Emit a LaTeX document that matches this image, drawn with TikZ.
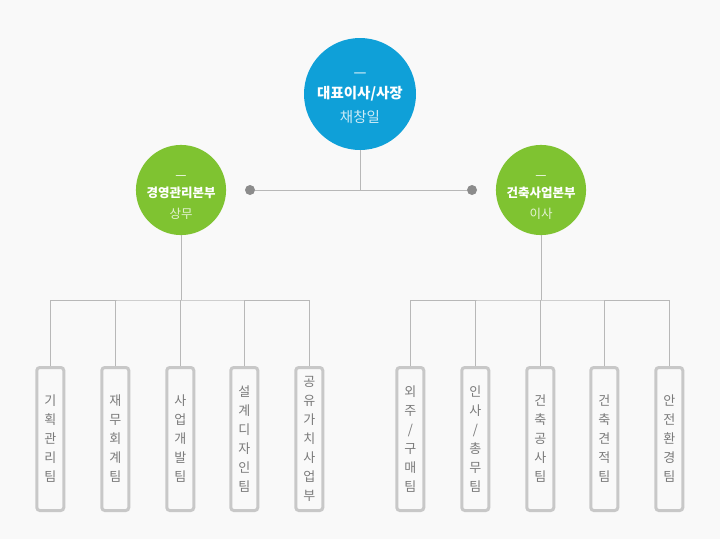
\documentclass[tikz,border=0pt]{standalone}
\usepackage{fontspec}
\setmainfont{Noto Sans CJK KR}
\usetikzlibrary{positioning}

\definecolor{ceoblue}{HTML}{0FA0D8}
\definecolor{divgreen}{HTML}{7FC331}
\definecolor{linegray}{HTML}{B8B8B8}
\definecolor{boxgray}{HTML}{C8C8C8}
\definecolor{dotgray}{HTML}{8C8C8C}
\definecolor{txtgray}{HTML}{7A7A7A}
\definecolor{bggray}{HTML}{F9F9F9}

\begin{document}
\begin{tikzpicture}[
    x=1pt, y=-1pt,
    head/.style={circle, fill=ceoblue, minimum size=112pt, inner sep=0pt, align=center, text=white,
        font=\fontsize{14.5}{22}\selectfont},
    div/.style={circle, fill=divgreen, minimum size=90pt, inner sep=0pt, align=center, text=white,
        font=\fontsize{12.5}{22}\selectfont},
    team/.style={draw=boxgray, line width=3pt, rounded corners=3pt, minimum width=27pt, minimum height=143pt,
        inner sep=0pt, align=center, text=txtgray, font=\fontsize{13}{19}\selectfont},
    dot/.style={circle, fill=dotgray, minimum size=10pt, inner sep=0pt},
    conn/.style={draw=linegray, line width=1pt},
]
% background
\fill[bggray] (0,0) rectangle (720,539);

% CEO
\node[head] (ceo) at (360,94) {\rule{0pt}{14pt}—\\[-1pt]
    \textbf{대표이사/사장}\\[2pt]
    \color{white!80!ceoblue}채창일};

% Divisions
\node[div] (mgmt) at (181,190) {\rule{0pt}{18pt}—\\[-4pt]
    \textbf{경영관리본부}\\[-1pt]
    \color{white!80!divgreen}상무};
\node[div] (build) at (541,190) {\rule{0pt}{18pt}—\\[-4pt]
    \textbf{건축사업본부}\\[-1pt]
    \color{white!80!divgreen}이사};

% Dots
\node[dot] (dotL) at (250,190) {};
\node[dot] (dotR) at (472,190) {};

% Teams (left)
\node[team] (t1) at (50.3,439) {기\\획\\관\\리\\팀};
\node[team] (t2) at (115.3,439) {재\\무\\회\\계\\팀};
\node[team] (t3) at (180.3,439) {사\\업\\개\\발\\팀};
\node[team] (t4) at (244.3,439) {설\\계\\디\\자\\인\\팀};
\node[team] (t5) at (309.3,439) {공\\유\\가\\치\\사\\업\\부};

% Teams (right)
\node[team] (t6) at (410.3,439) {외\\주\\/\\구\\매\\팀};
\node[team] (t7) at (475.3,439) {인\\사\\/\\총\\무\\팀};
\node[team] (t8) at (540.3,439) {건\\축\\공\\사\\팀};
\node[team] (t9) at (604.3,439) {건\\축\\견\\적\\팀};
\node[team] (t10) at (669.3,439) {안\\전\\환\\경\\팀};

% Connectors
\coordinate (busL) at (181,300);
\coordinate (busR) at (541,300);
\draw[conn] (dotL) -- (dotR);
\draw[conn] (ceo) -- (ceo |- dotL);
\draw[conn] (mgmt) -- (busL);
\draw[conn] (build) -- (busR);
\draw[conn] (t1.north) |- (busL) -| (t5.north);
\draw[conn] (t2.north) -- (t2.north |- busL);
\draw[conn] (t3.north) -- (t3.north |- busL);
\draw[conn] (t4.north) -- (t4.north |- busL);
\draw[conn] (t6.north) |- (busR) -| (t10.north);
\draw[conn] (t7.north) -- (t7.north |- busR);
\draw[conn] (t8.north) -- (t8.north |- busR);
\draw[conn] (t9.north) -- (t9.north |- busR);
\end{tikzpicture}
\end{document}
